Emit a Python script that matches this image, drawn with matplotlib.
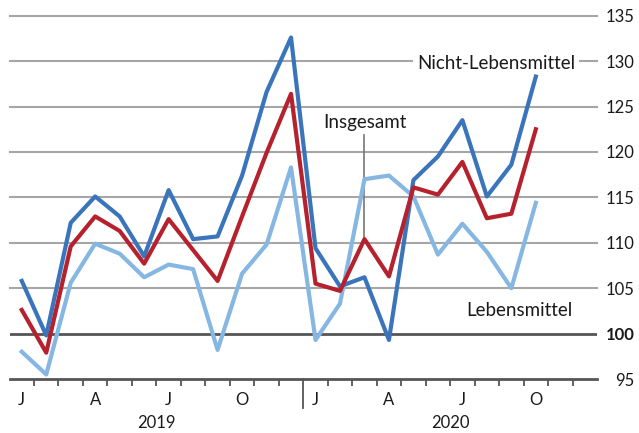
import matplotlib

matplotlib.use("Agg")
import matplotlib.pyplot as plt
import matplotlib.transforms as mtransforms

# Monate Jan 2019 bis Okt 2020
months = list(range(22))
nicht_lebensmittel = [105.8, 99.8, 112.2, 115.1, 112.9, 108.5, 115.8, 110.4, 110.7, 117.4,
                      126.6, 132.6, 109.4, 105.2, 106.2, 99.3, 116.9, 119.5, 123.5, 115.1,
                      118.6, 128.3]
insgesamt = [102.6, 97.9, 109.6, 112.9, 111.3, 107.7, 112.6, 109.2, 105.8, 112.9,
             119.9, 126.4, 105.5, 104.7, 110.4, 106.3, 116.1, 115.3, 118.9, 112.7,
             113.2, 122.5]
lebensmittel = [98.0, 95.5, 105.6, 109.9, 108.8, 106.2, 107.6, 107.1, 98.2, 106.6,
                109.8, 118.3, 99.3, 103.3, 117.0, 117.4, 115.1, 108.7, 112.1, 109.0,
                105.0, 114.4]

month_ticks = [0, 3, 6, 9, 12, 15, 18, 21]
month_labels = ["J", "A", "J", "O", "J", "A", "J", "O"]
years = ["2019", "2020"]
y_ticks = [95, 100, 105, 110, 115, 120, 125, 130, 135]

DARK_BLUE = "#3a74ba"
RED = "#b5222e"
LIGHT_BLUE = "#86b7e3"
GRID = "#a6a6a6"
AXIS = "#555555"
INK = "#1a1a1a"

plt.rcParams["font.family"] = ["Lato", "DejaVu Sans"]

fig = plt.figure(figsize=(6.39, 4.33), dpi=100)
ax = fig.add_axes([0.0149, 0.1247, 0.9194, 0.839])
ax.set_xlim(-0.5, 23.5)
ax.set_ylim(95, 135)

for v in y_ticks[2:]:
    ax.axhline(v, color=GRID, linewidth=1.5, zorder=1, clip_on=False)
ax.axhline(100, color=AXIS, linewidth=2, zorder=1)
ax.axhline(95, color=AXIS, linewidth=2, zorder=1, clip_on=False)

lw = 3.0
ax.plot(months, lebensmittel, color=LIGHT_BLUE, linewidth=lw, zorder=3, clip_on=False)
ax.plot(months, nicht_lebensmittel, color=DARK_BLUE, linewidth=lw, zorder=4, clip_on=False)
ax.plot(months, insgesamt, color=RED, linewidth=lw, zorder=5, clip_on=False)

for s in ax.spines.values():
    s.set_visible(False)

# y-Achse rechts
ax.yaxis.tick_right()
ax.set_yticks(y_ticks)
ax.set_yticklabels([str(v) for v in y_ticks])
ax.tick_params(axis="y", length=0, pad=27, labelsize=12, labelcolor=INK)
for lab in ax.get_yticklabels():
    lab.set_horizontalalignment("right")
    if lab.get_text() == "100":
        lab.set_fontweight("bold")

# x-Achse: Monatsgrenzen als Ticks, Beschriftung in Monatsmitte
ax.set_xticks(month_ticks)
ax.set_xticklabels(month_labels)
ax.tick_params(axis="x", length=0, pad=9, labelsize=12, labelcolor=INK)
bound = [b + 0.5 for b in range(23) if b != 11]
ax.set_xticks(bound, minor=True)
ax.tick_params(axis="x", which="minor", length=5, width=1.3, color=AXIS, direction="out")

trans = mtransforms.blended_transform_factory(ax.transData, ax.transAxes)
ax.plot([11.5, 11.5], [0, -0.08], color=AXIS, linewidth=1.3, transform=trans, clip_on=False)
ax.text(5.5, -0.12, years[0], transform=trans, ha="center", va="center", fontsize=12, color=INK)
ax.text(17.5, -0.12, years[1], transform=trans, ha="center", va="center", fontsize=12, color=INK)

# Serienbeschriftungen (Kasten hinter den Linien, nur die Gitterlinie wird unterbrochen)
label_fs = 13.5
ax.text(22.6, 129.1, "Nicht-Lebensmittel", ha="right", va="baseline", fontsize=label_fs,
        color=INK, zorder=2, bbox=dict(facecolor="white", edgecolor="none", pad=3))
ax.text(14.0, 122.6, "Insgesamt", ha="center", va="baseline", fontsize=label_fs, color=INK,
        zorder=6)
ax.plot([14, 14], [121.9, insgesamt[14]], color="#777777", linewidth=1.2, zorder=2)
ax.text(22.5, 101.9, "Lebensmittel", ha="right", va="baseline", fontsize=label_fs, color=INK,
        zorder=6)

fig.savefig("out.png", dpi=100, facecolor="white")
